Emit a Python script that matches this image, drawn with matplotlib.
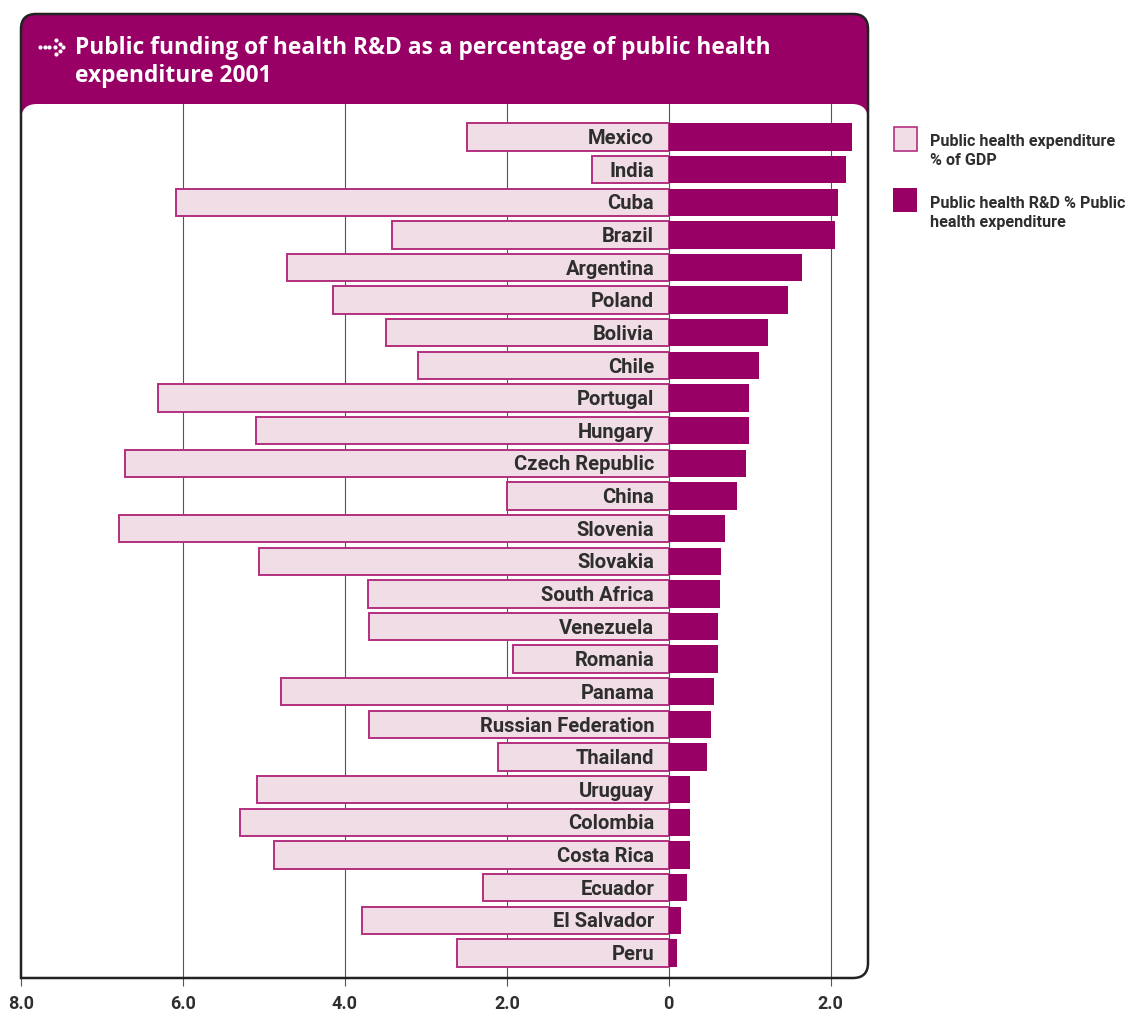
import numpy as np
import matplotlib.pyplot as plt
from matplotlib.patches import PathPatch, Rectangle
from matplotlib.path import Path
from matplotlib.lines import Line2D

### data
countries = ['Mexico', 'India', 'Cuba', 'Brazil', 'Argentina', 'Poland', 'Bolivia', 'Chile',
             'Portugal', 'Hungary', 'Czech Republic', 'China', 'Slovenia', 'Slovakia',
             'South Africa', 'Venezuela', 'Romania', 'Panama', 'Russian Federation',
             'Thailand', 'Uruguay', 'Colombia', 'Costa Rica', 'Ecuador', 'El Salvador', 'Peru']
health_gdp = [2.49, 0.95, 6.09, 3.42, 4.72, 4.15, 3.49, 3.10, 6.31, 5.10, 6.72, 2.00, 6.79,
              5.06, 3.72, 3.70, 1.93, 4.79, 3.70, 2.11, 5.09, 5.30, 4.88, 2.30, 3.79, 2.62]
rd_share = [2.26, 2.19, 2.09, 2.05, 1.64, 1.47, 1.22, 1.11, 0.99, 0.99, 0.95, 0.84, 0.70,
            0.65, 0.63, 0.61, 0.61, 0.56, 0.52, 0.47, 0.26, 0.26, 0.26, 0.23, 0.15, 0.10]
tick_vals = [-8, -6, -4, -2, 0, 2]
tick_labels = ['8.0', '6.0', '4.0', '2.0', '0', '2.0']
legend_labels = ['Public health expenditure\n% of GDP', 'Public health R&D % Public\nhealth expenditure']
title = 'Public funding of health R&D as a percentage of public health\nexpenditure 2001'

PURPLE = '#990066'
PINK = '#f0dde6'
EDGE = '#b3307f'
TEXT = '#2e2e2e'
NARROW = ['Roboto', 'DejaVu Sans']
W, H = 1132, 1014

def fx(px): return px / W
def fy(py): return 1 - py / H

### frame path in pixels: rounded except bottom-left corner
def frame_path(top, r=15, left=21, right=868, bottom=978):
    verts = [(left, bottom), (left, top + r), (left, top), (left + r, top),
             (right - r, top), (right, top), (right, top + r),
             (right, bottom - r), (right, bottom), (right - r, bottom), (left, bottom)]
    codes = [Path.MOVETO, Path.LINETO, Path.CURVE3, Path.CURVE3,
             Path.LINETO, Path.CURVE3, Path.CURVE3,
             Path.LINETO, Path.CURVE3, Path.CURVE3, Path.CLOSEPOLY]
    return Path([(fx(a), fy(b)) for a, b in verts], codes)

fig = plt.figure(figsize=(W / 100, H / 100), dpi=100)

band = PathPatch(frame_path(14), transform=fig.transFigure, facecolor=PURPLE, edgecolor='none', zorder=-3)
body = PathPatch(frame_path(104, r=16), transform=fig.transFigure, facecolor='white', edgecolor='none', zorder=-2)
outline = PathPatch(frame_path(14), transform=fig.transFigure, facecolor='none',
                    edgecolor='#222222', linewidth=1.8, zorder=5)
fig.patches.extend([band, body, outline])

### title with dotted arrow
for x in [40, 44.5, 49]:
    fig.add_artist(Line2D([fx(x)], [fy(47)], marker='o', ms=2, color='white', transform=fig.transFigure))
for (x, y) in [(56, 40), (59.5, 43.5), (63, 47), (59.5, 50.5), (56, 54), (55, 47)]:
    fig.add_artist(Line2D([fx(x)], [fy(y)], marker='o', ms=2, color='white', transform=fig.transFigure))
fig.text(fx(75), fy(62), title, color='white', fontsize=16.4, fontweight='bold',
         family=['Open Sans', 'DejaVu Sans'], va='center', ha='left', linespacing=1.25)

### axes
ax = fig.add_axes([fx(21), fy(978), fx(868) - fx(21), fy(104) - fy(978)])
ax.set_facecolor('none')
y = np.arange(len(countries))
left = -np.array(health_gdp)
ax.barh(y, left, height=0.84, color=PINK, edgecolor=EDGE, linewidth=1.4, zorder=2)
ax.barh(y, rd_share, height=0.84, color=PURPLE, edgecolor='none', zorder=2)
for yi, name in zip(y, countries):
    ax.text(-0.18, yi + 0.05, name, ha='right', va='center', fontsize=14.5, fontweight='bold',
            color=TEXT, family=NARROW, zorder=3)

ax.set_xlim(-8, 2.46)
ax.set_ylim(len(countries) - 1 + 0.77, -1.01)
for t in tick_vals[1:]:
    ax.axvline(t, color='#555555', linewidth=0.8, zorder=1)
ax.set_xticks(tick_vals)
ax.set_xticklabels(tick_labels, fontsize=13, fontweight='bold', color=TEXT, family=NARROW)
ax.tick_params(axis='x', length=6, width=0.8, color='#555555', pad=6)
ax.set_yticks([])
for s in ax.spines.values():
    s.set_visible(False)

### legend
fig.patches.append(Rectangle((fx(894), fy(151)), fx(23), fy(127) - fy(151), transform=fig.transFigure,
                             facecolor=PINK, edgecolor=EDGE, linewidth=1.2))
fig.patches.append(Rectangle((fx(893), fy(212)), fx(24), fy(188) - fy(212), transform=fig.transFigure,
                             facecolor=PURPLE, edgecolor='none'))
fig.text(fx(930), fy(151), legend_labels[0], fontsize=11.6, fontweight='bold', color=TEXT,
         family=NARROW, va='center', ha='left', linespacing=1.3)
fig.text(fx(930), fy(213), legend_labels[1], fontsize=11.6, fontweight='bold', color=TEXT,
         family=NARROW, va='center', ha='left', linespacing=1.3)

fig.savefig('out.png', dpi=100)
